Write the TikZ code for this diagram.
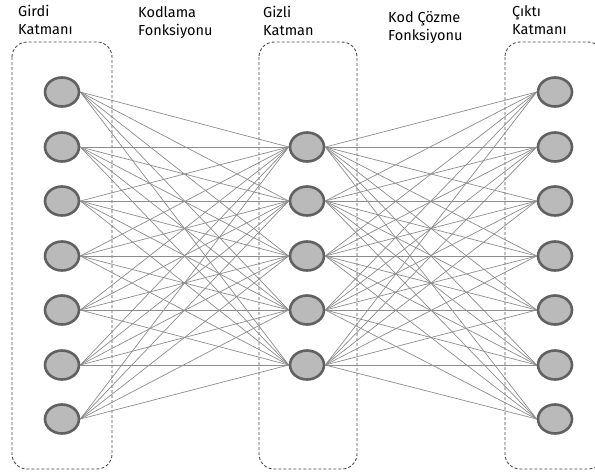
\documentclass[tikz,border=0pt]{standalone}
\usepackage{fontspec}
\setmainfont{Fira Sans}
\usetikzlibrary{shapes.geometric}
\begin{document}
\begin{tikzpicture}[x=1pt,y=-1pt,
  neuron/.style={ellipse, minimum width=34pt, minimum height=29pt, inner sep=0pt,
    draw=black!62, line width=2.6pt, fill=black!27},
  layerbox/.style={draw=black!70, line width=0.9pt, dash pattern=on 3pt off 2pt,
    rounded corners=15pt},
  link/.style={draw=black!45, line width=0.7pt},
  caption/.style={anchor=north west, align=left, inner sep=0pt,
    font=\fontsize{14.5}{18}\selectfont}
]
\useasboundingbox (0,0) rectangle (595,475);
\clip (0,0) rectangle (595,475);

% layer frames
\draw[layerbox] (12,42) rectangle (112,469);
\draw[layerbox] (259,42) rectangle (357,469);
\draw[layerbox] (505,42) rectangle (603,469);

% unit positions: input and output layers (7 units), hidden layer (5 units)
\foreach \i/\y in {1/92,2/147,3/201,4/256,5/310,6/365,7/419} {
  \coordinate (pin\i) at (62,\y);
  \coordinate (pout\i) at (555,\y);
}
\foreach \j/\y in {1/147,2/201,3/256,4/310,5/365} {
  \coordinate (phid\j) at (307,\y);
}

\foreach \i in {1,...,7} {
  \node[neuron] (in\i) at (pin\i) {};
  \node[neuron] (out\i) at (pout\i) {};
}
\foreach \j in {1,...,5} {
  \node[neuron] (hid\j) at (phid\j) {};
}

% encoder and decoder weights
\foreach \i in {1,...,7} {
  \foreach \j in {1,...,5} {
    \draw[link] (in\i.east) -- (hid\j.west);
    \draw[link] (hid\j.east) -- (out\i.west);
  }
}

% captions
\node[caption] (capin) at (18,5) {Girdi\\Katmanı};
\node[caption] (capenc) at (138,6) {Kodlama\\Fonksiyonu};
\node[caption] (caphid) at (263,6) {Gizli\\Katman};
\node[caption] (capdec) at (388,11) {Kod Çözme\\Fonksiyonu};
\node[caption] (capout) at (512,5) {Çıktı\\Katmanı};
\end{tikzpicture}
\end{document}
